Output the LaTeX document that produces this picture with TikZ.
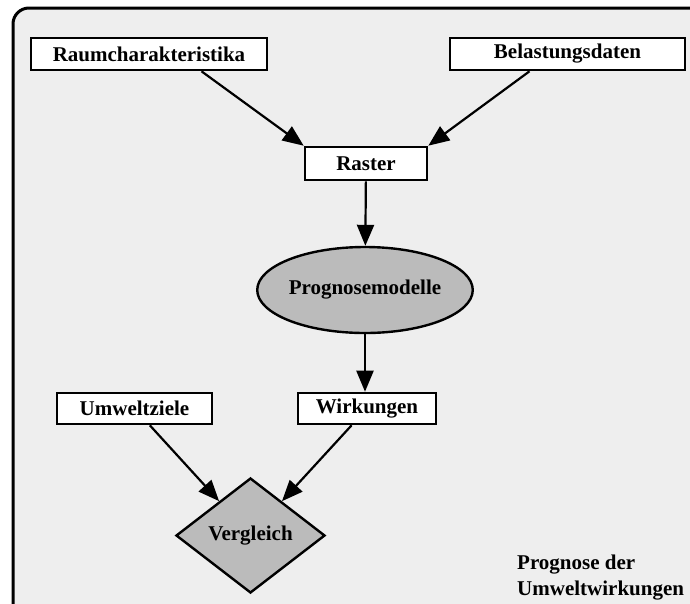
\documentclass[tikz,border=0pt]{standalone}
\usepackage{fontspec}
\setmainfont{Liberation Serif}
\usetikzlibrary{shapes.geometric,arrows.meta,calc}
\definecolor{panelbg}{HTML}{EEEEEE}
\definecolor{shapegray}{HTML}{BBBBBB}
\begin{document}
\begin{tikzpicture}[x=1pt,y=-1pt,
  every node/.style={font=\fontsize{21}{26}\selectfont\bfseries},
  databox/.style={draw,line width=2.6pt,fill=white,rectangle,inner sep=0pt},
  model/.style={draw,line width=2.4pt,fill=shapegray,ellipse,inner sep=0pt,
    minimum width=210pt,minimum height=86pt},
  decision/.style={draw,line width=2.4pt,fill=shapegray,diamond,inner sep=0pt,
    minimum width=149pt,minimum height=115pt},
  flow/.style={line width=2.2pt,-{Triangle[length=21pt,width=17pt]}}]
\useasboundingbox (0,0) rectangle (690,603);
% panel
\begin{scope}
\clip (0,0) rectangle (690,603);
\draw[line width=3pt,fill=panelbg,rounded corners=16pt] (13,8) rectangle (705,618);
\end{scope}
% nodes
\node[databox,minimum width=236pt,minimum height=32pt] (rc) at (149,54) {Raumcharakteristika};
\node[databox,minimum width=235pt,minimum height=32pt] (bd) at (567.5,54) {Belastungsdaten};
\node[databox,minimum width=122pt,minimum height=33pt] (ra) at (366,163.5) {Raster};
\node[model] (pm) at (365,290) {Prognosemodelle};
\node[databox,minimum width=155pt,minimum height=31pt] (uz) at (134.5,408.5) {Umweltziele};
\node[databox,minimum width=138pt,minimum height=31pt] (wk) at (367,408.5) {Wirkungen};
\node[decision] (vg) at (250.5,535.5) {Vergleich};
\node[inner sep=0pt,anchor=north west,align=left] (lbl) at (517,555) {Prognose der\\Umweltwirkungen};
% connectors
\draw[flow] ($(rc.south west)!0.72!(rc.south east)$) -- (ra.north west);
\draw[flow] ($(bd.south west)!0.34!(bd.south east)$) -- (ra.north east);
\draw[flow] (ra) -- (pm);
\draw[flow] (pm) -- (pm.south |- wk.north);
\draw[flow] (uz) -- (vg);
\draw[flow] (wk) -- (vg);
\end{tikzpicture}
\end{document}
